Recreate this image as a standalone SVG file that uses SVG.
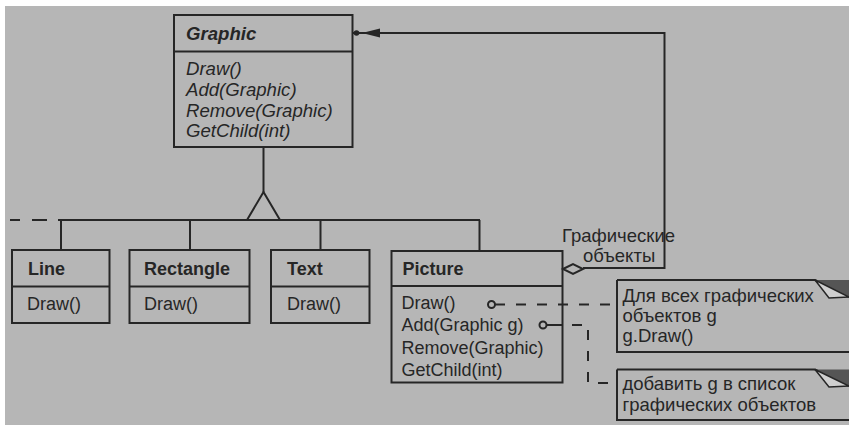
<svg xmlns="http://www.w3.org/2000/svg" width="849" height="425" viewBox="0 0 849 425">
<defs>
<style>
.bx{fill:none;stroke:#262626;stroke-width:2}
.ln{fill:none;stroke:#262626;stroke-width:2}
.ds{fill:none;stroke:#262626;stroke-width:2;stroke-dasharray:10 11}
.t{font-family:"Liberation Sans",Arial,sans-serif;font-size:18px;fill:#262626}
.b{font-weight:bold}
.i{font-style:italic;font-size:18.6px}
.n{font-family:"Liberation Sans",Arial,sans-serif;font-size:18.5px;fill:#262626}
</style>
</defs>
<rect x="0" y="0" width="849" height="425" fill="#ffffff"/>
<rect x="5" y="6" width="844" height="419" fill="#b6b6b6"/>

<g id="connectors">
<line class="ln" x1="263.5" y1="147" x2="263.5" y2="192"/>
<polygon points="263.5,192 247,220 280,220" fill="#b6b6b6" stroke="#262626" stroke-width="2"/>
<line class="ln" x1="58" y1="220" x2="480" y2="220"/>
<line class="ln" x1="10" y1="220" x2="20" y2="220"/>
<line class="ln" x1="32" y1="220" x2="47" y2="220"/>
<line class="ln" x1="61" y1="220" x2="61" y2="250"/>
<line class="ln" x1="190" y1="220" x2="190" y2="250"/>
<line class="ln" x1="320.5" y1="220" x2="320.5" y2="250"/>
<line class="ln" x1="479.5" y1="220" x2="479.5" y2="251"/>
<polyline class="ln" points="583,268 664.5,268 664.5,33 352,33"/>
<polygon points="362,33 380,28.5 380,37.5" fill="#262626"/>
<circle cx="356.5" cy="33" r="2.8" fill="#262626"/>
<polygon points="563,269 573,264 583,269 573,274" fill="#b6b6b6" stroke="#262626" stroke-width="2"/>
<circle cx="491.5" cy="304.5" r="3.5" fill="#b6b6b6" stroke="#262626" stroke-width="2"/>
<line class="ds" x1="495" y1="304.5" x2="617" y2="304.5" stroke-dasharray="8 12 10 11"/>
<circle cx="543" cy="325" r="3.5" fill="#b6b6b6" stroke="#262626" stroke-width="2"/>
<line class="ln" x1="546.5" y1="325" x2="562" y2="325"/>
<polyline class="ds" points="572,325 588,325 588,383 617,383" stroke-dasharray="10 10"/>
</g>

<g id="graphic">
<rect class="bx" x="174" y="15" width="178.5" height="132"/>
<line class="ln" x1="174" y1="51.5" x2="352.5" y2="51.5"/>
<text class="t b i" x="186" y="39.5">Graphic</text>
<text class="t i" x="186" y="75">Draw()</text>
<text class="t i" x="186" y="96">Add(Graphic)</text>
<text class="t i" x="186" y="116.5">Remove(Graphic)</text>
<text class="t i" x="186" y="137">GetChild(int)</text>
</g>

<g id="line">
<rect class="bx" x="12" y="250" width="97.5" height="73"/>
<line class="ln" x1="12" y1="286.5" x2="109.5" y2="286.5"/>
<text class="t b" x="28" y="275">Line</text>
<text class="t" x="27" y="310">Draw()</text>
</g>

<g id="rectangle">
<rect class="bx" x="129.5" y="250" width="120" height="73"/>
<line class="ln" x1="129.5" y1="286.5" x2="249.5" y2="286.5"/>
<text class="t b" x="144" y="275">Rectangle</text>
<text class="t" x="144" y="310">Draw()</text>
</g>

<g id="text">
<rect class="bx" x="271" y="250" width="98.5" height="73"/>
<line class="ln" x1="271" y1="286.5" x2="369.5" y2="286.5"/>
<text class="t b" x="287" y="275">Text</text>
<text class="t" x="287" y="310">Draw()</text>
</g>

<g id="picture">
<rect class="bx" x="391.5" y="251" width="171" height="131.5"/>
<line class="ln" x1="391.5" y1="286" x2="562.5" y2="286"/>
<text class="t b" x="402.5" y="275">Picture</text>
<text class="t" x="401.5" y="309">Draw()</text>
<text class="t" x="401.5" y="331">Add(Graphic g)</text>
<text class="t" x="401.5" y="354">Remove(Graphic)</text>
<text class="t" x="401.5" y="375.5">GetChild(int)</text>
</g>

<g id="role-label">
<text class="n" x="562" y="242">Графические</text>
<text class="n" x="583" y="262">объекты</text>
</g>

<g id="note-draw">
<path class="bx" d="M617,280 L815,280 L849,297 M849,352 L617,352 L617,280"/>
<polygon points="815,280 849,280 849,297" fill="#555555"/>
<polygon points="815,280 829,298 849,297" fill="#cfcfcf" stroke="#262626" stroke-width="1.5"/>
<text class="n" x="622.5" y="302">Для всех графических</text>
<text class="n" x="622.5" y="322">объектов g</text>
<text class="n" x="622.5" y="342">g.Draw()</text>
</g>

<g id="note-add">
<path class="bx" d="M617,369.5 L815,369.5 L849,386 M849,420 L617,420 L617,369.5"/>
<polygon points="815,369.5 849,369.5 849,386" fill="#555555"/>
<polygon points="815,369.5 829,387 849,386" fill="#cfcfcf" stroke="#262626" stroke-width="1.5"/>
<text class="n" x="622.5" y="390">добавить g в список</text>
<text class="n" x="622.5" y="411">графических объектов</text>
</g>
</svg>
